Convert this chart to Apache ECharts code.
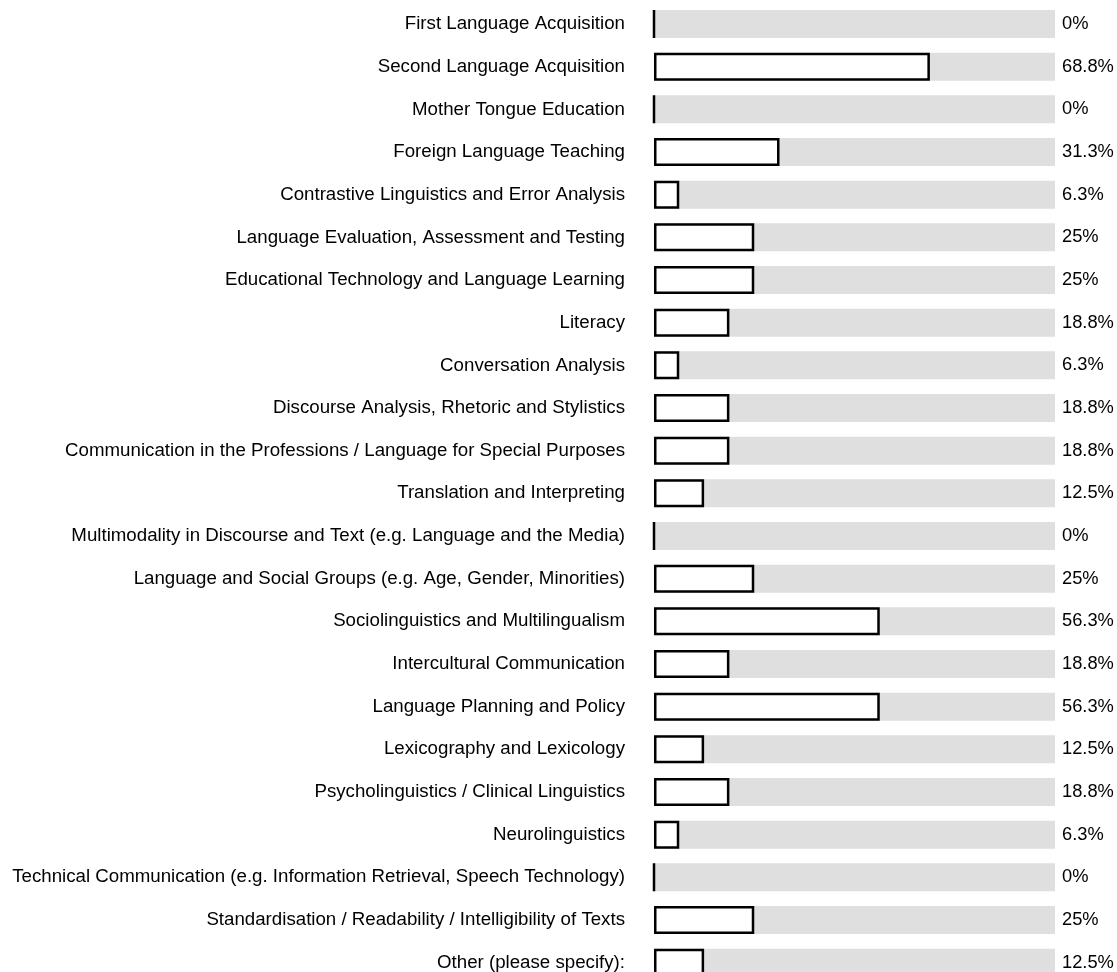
<!DOCTYPE html>
<html>
<head>
<meta charset="utf-8">
<script src="https://cdn.jsdelivr.net/npm/echarts@6/dist/echarts.min.js"></script>
<style>
  html, body { margin: 0; padding: 0; background: #ffffff; }
  #chart { width: 1117px; height: 972px; }
</style>
</head>
<body>
<div id="chart"></div>
<script>
// Research areas, listed top to bottom
const categories = [
  'First Language Acquisition',
  'Second Language Acquisition',
  'Mother Tongue Education',
  'Foreign Language Teaching',
  'Contrastive Linguistics and Error Analysis',
  'Language Evaluation, Assessment and Testing',
  'Educational Technology and Language Learning',
  'Literacy',
  'Conversation Analysis',
  'Discourse Analysis, Rhetoric and Stylistics',
  'Communication in the Professions / Language for Special Purposes',
  'Translation and Interpreting',
  'Multimodality in Discourse and Text (e.g. Language and the Media)',
  'Language and Social Groups (e.g. Age, Gender, Minorities)',
  'Sociolinguistics and Multilingualism',
  'Intercultural Communication',
  'Language Planning and Policy',
  'Lexicography and Lexicology',
  'Psycholinguistics / Clinical Linguistics',
  'Neurolinguistics',
  'Technical Communication (e.g. Information Retrieval, Speech Technology)',
  'Standardisation / Readability / Intelligibility of Texts',
  'Other (please specify):'
];

// Share of respondents (%)
const percentages = [
  0, 68.8, 0, 31.3, 6.3, 25, 25, 18.8, 6.3, 18.8, 18.8, 12.5,
  0, 25, 56.3, 18.8, 56.3, 12.5, 18.8, 6.3, 0, 25, 12.5
];

const valueLabels = percentages.map(v => v + '%');

const chart = echarts.init(document.getElementById('chart'), null, { renderer: 'canvas' });

const font = 'Liberation Sans, Arial, sans-serif';

chart.setOption({
  animation: false,
  backgroundColor: '#ffffff',
  grid: {
    left: 654,
    width: 401,
    top: 2.7,
    height: 981.3,
    containLabel: false,
    outerBoundsMode: 'none'
  },
  xAxis: {
    type: 'value',
    min: 0,
    max: 100,
    show: false
  },
  yAxis: [
    {
      type: 'category',
      data: categories,
      inverse: true,
      position: 'left',
      axisLine: { show: false },
      axisTick: { show: false },
      splitLine: { show: false },
      axisLabel: {
        margin: 29,
        color: '#000000',
        fontFamily: font,
        fontSize: 18.7,
        interval: 0
      }
    },
    {
      type: 'category',
      data: valueLabels,
      inverse: true,
      position: 'right',
      axisLine: { show: false },
      axisTick: { show: false },
      splitLine: { show: false },
      axisLabel: {
        margin: 7,
        color: '#000000',
        fontFamily: font,
        fontSize: 18.3,
        align: 'left',
        interval: 0
      }
    }
  ],
  series: [
    {
      type: 'bar',
      data: percentages,
      yAxisIndex: 0,
      barWidth: 28,
      showBackground: true,
      backgroundStyle: { color: '#dfdfdf' },
      itemStyle: {
        color: '#ffffff',
        borderColor: '#000000',
        borderWidth: 2.5
      },
      silent: true
    }
  ]
});
</script>
</body>
</html>
